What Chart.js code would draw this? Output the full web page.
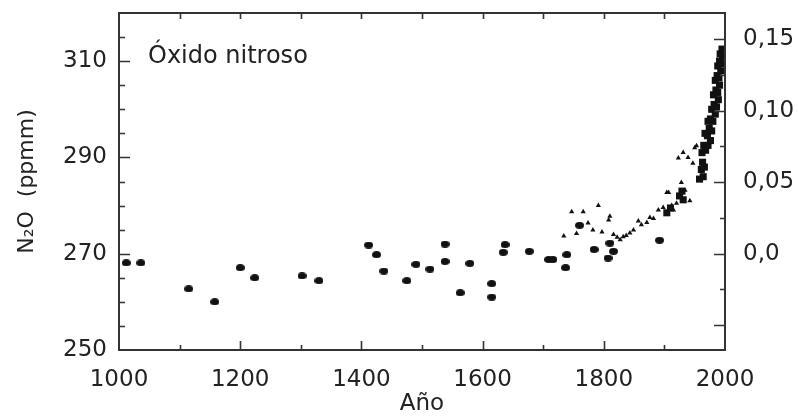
<!DOCTYPE html>
<html>
<head>
<meta charset="utf-8">
<script src="https://cdn.jsdelivr.net/npm/chart.js@4/dist/chart.umd.min.js"></script>
<style>
  html, body { margin: 0; padding: 0; background: #ffffff; }
  #wrap { width: 798px; height: 416px; }
</style>
</head>
<body>
<div id="wrap"><canvas id="c" width="798" height="416"></canvas></div>
<script>
// Ice-core N2O record (ellipses)
const coreYears  = [1012, 1036, 1115, 1158, 1200, 1224, 1302, 1330, 1412, 1425, 1437, 1475, 1490, 1513,
                    1538, 1538, 1563, 1579, 1615, 1615, 1634, 1637, 1677, 1709, 1716, 1737, 1739, 1760,
                    1784, 1807, 1810, 1816, 1892];
const coreValues = [268.1, 268.1, 262.7, 260.0, 267.1, 265.0, 265.4, 264.4, 271.8, 269.8, 266.4, 264.4, 267.8, 266.8,
                    272.0, 268.4, 261.9, 268.0, 263.8, 261.0, 270.3, 271.9, 270.5, 268.8, 268.8, 267.1, 269.8, 275.9,
                    270.9, 269.1, 272.2, 270.5, 272.8];

// Firn air record (triangles)
const firnYears  = [1734, 1747, 1755, 1766, 1774, 1782, 1791, 1797, 1808, 1810, 1816, 1822, 1827, 1832, 1837,
                    1843, 1849, 1857, 1862, 1871, 1876, 1882, 1890, 1898, 1904, 1907, 1912, 1915, 1920, 1923,
                    1926, 1928, 1931, 1934, 1939, 1942, 1947, 1950, 1953];
const firnValues = [273.7, 278.7, 274.2, 278.7, 276.4, 274.9, 280.0, 274.5, 277.0, 277.8, 274.0, 273.4, 272.9, 273.5, 273.8,
                    274.3, 274.9, 276.8, 276.0, 276.5, 277.5, 277.3, 279.1, 279.6, 282.7, 282.7, 280.0, 279.1, 280.5, 289.9,
                    281.7, 284.8, 291.0, 283.2, 290.0, 281.0, 288.8, 292.0, 292.4];

// Atmospheric measurements (squares)
const airYears  = [1904, 1910, 1925, 1929, 1931,
                   1958, 1961, 1963, 1964, 1966,
                   1962, 1965, 1968, 1972, 1976,
                   1967, 1971, 1974, 1978,
                   1972, 1976, 1980, 1984,
                   1978, 1982, 1986, 1989,
                   1981, 1985, 1988, 1991,
                   1984, 1987, 1990, 1993,
                   1988, 1991, 1994,
                   1992, 1995, 1996];
const airValues = [278.5, 279.5, 282.0, 283.0, 281.2,
                   285.5, 287.5, 289.0, 286.0, 288.0,
                   291.0, 292.5, 291.5, 292.5, 293.5,
                   295.0, 294.5, 296.0, 295.5,
                   297.5, 298.0, 297.5, 299.0,
                   300.0, 301.0, 300.5, 302.0,
                   303.0, 304.0, 303.5, 305.0,
                   306.0, 307.0, 306.5, 308.0,
                   309.0, 310.0, 309.5,
                   311.5, 312.5, 311.0];

const yearTicks   = [1000, 1200, 1400, 1600, 1800, 2000];
const ppmTicks    = [250, 270, 290, 310];
const forcingTicks  = [0, 0.05, 0.10, 0.15];
const forcingLabels = ['0,0', '0,05', '0,10', '0,15'];

const ppmMin = 250, ppmMax = 320;
const ppmAtZeroForcing = 270;
const ppmPerForcingUnit = 297;

const FONT = "'DejaVu Sans', sans-serif";
const INK = '#222222';

function pts(xs, ys) { return xs.map((x, i) => ({ x: x, y: ys[i] })); }

function ellipseSprite(w, h) {
  const c = document.createElement('canvas');
  c.width = w; c.height = h;
  const g = c.getContext('2d');
  g.fillStyle = '#111111';
  g.beginPath();
  g.ellipse(w / 2, h / 2, w / 2, h / 2, 0, 0, Math.PI * 2);
  g.fill();
  return c;
}

function setTicks(values) {
  return scale => { scale.ticks = values.map(v => ({ value: v })); };
}

// Fixed axis bands so the plot frame sits where it should
function fixSize(prop, size) {
  return s => {
    s[prop] = size;
    s.paddingTop = 0; s.paddingBottom = 0;
    s.paddingLeft = 0; s.paddingRight = 0;
  };
}

// Frame, inward tick marks and the panel title
const framePlugin = {
  id: 'frame',
  afterDraw(chart) {
    const { ctx, chartArea: a, scales } = chart;
    const x = scales.x, y = scales.y, y1 = scales.y1;
    ctx.save();
    ctx.strokeStyle = '#333333';
    ctx.lineWidth = 1.6;
    ctx.beginPath();
    for (let v = 1100; v < 2000; v += 100) {
      const px = Math.round(x.getPixelForValue(v)) + 0.5;
      const len = v % 200 === 0 ? 9 : 5;
      ctx.moveTo(px, a.bottom); ctx.lineTo(px, a.bottom - len);
      ctx.moveTo(px, a.top); ctx.lineTo(px, a.top + 6);
    }
    for (let v = 255; v <= 315; v += 5) {
      const py = Math.round(y.getPixelForValue(v)) + 0.5;
      const len = (v - 250) % 20 === 0 ? 11 : 6;
      ctx.moveTo(a.left, py); ctx.lineTo(a.left + len, py);
    }
    for (let k = -2; k <= 6; k++) {
      const v = k * 0.025;
      const py = Math.round(y1.getPixelForValue(v)) + 0.5;
      const len = k % 2 === 0 ? 11 : 5;
      ctx.moveTo(a.right, py); ctx.lineTo(a.right - len, py);
    }
    ctx.stroke();
    ctx.lineWidth = 2;
    ctx.strokeRect(a.left, a.top, a.right - a.left, a.bottom - a.top);
    ctx.fillStyle = INK;
    ctx.font = '24px ' + FONT;
    ctx.textBaseline = 'alphabetic';
    ctx.textAlign = 'left';
    ctx.fillText('Óxido nitroso', a.left + 29, a.top + 50);
    ctx.restore();
  }
};

new Chart(document.getElementById('c'), {
  type: 'scatter',
  data: {
    datasets: [
      {
        label: 'Testigos de hielo',
        data: pts(coreYears, coreValues),
        pointStyle: ellipseSprite(9, 7),
        pointRadius: 4,
        yAxisID: 'y'
      },
      {
        label: 'Aire en neviza',
        data: pts(firnYears, firnValues),
        pointStyle: 'triangle',
        pointRadius: 3,
        backgroundColor: '#111111',
        borderWidth: 0,
        yAxisID: 'y'
      },
      {
        label: 'Atmósfera',
        data: pts(airYears, airValues),
        pointStyle: 'rect',
        pointRadius: 5,
        backgroundColor: '#111111',
        borderWidth: 0,
        yAxisID: 'y'
      }
    ]
  },
  options: {
    responsive: false,
    animation: false,
    devicePixelRatio: 1,
    layout: { padding: { top: 13, left: 0, right: 0, bottom: 0 } },
    plugins: { legend: { display: false }, tooltip: { enabled: false } },
    scales: {
      x: {
        type: 'linear',
        position: 'bottom',
        min: 1000,
        max: 2000,
        afterBuildTicks: setTicks(yearTicks),
        afterFit: fixSize('height', 66),
        grid: { display: false, drawTicks: false },
        border: { display: false },
        ticks: { color: INK, font: { family: FONT, size: 23 }, padding: 16, maxRotation: 0,
                 callback: v => String(v) },
        title: { display: true, text: 'Año', color: INK, font: { family: FONT, size: 23, lineHeight: 1 }, padding: 0 }
      },
      y: {
        type: 'linear',
        position: 'left',
        min: ppmMin,
        max: ppmMax,
        afterBuildTicks: setTicks(ppmTicks),
        afterFit: fixSize('width', 119),
        grid: { display: false, drawTicks: false },
        border: { display: false },
        ticks: { color: INK, font: { family: FONT, size: 23 }, padding: 12, callback: v => String(v) },
        title: { display: true, text: 'N₂O  (ppmm)', color: INK, font: { family: FONT, size: 22, lineHeight: 1 }, padding: { top: 16, bottom: 0 } }
      },
      y1: {
        type: 'linear',
        position: 'right',
        min: (ppmMin - ppmAtZeroForcing) / ppmPerForcingUnit,
        max: (ppmMax - ppmAtZeroForcing) / ppmPerForcingUnit,
        afterBuildTicks: setTicks(forcingTicks),
        afterFit: fixSize('width', 73),
        grid: { display: false, drawTicks: false },
        border: { display: false },
        ticks: {
          color: INK,
          font: { family: FONT, size: 23 },
          padding: 18,
          callback: (v, i) => forcingLabels[i]
        }
      }
    }
  },
  plugins: [framePlugin]
});
</script>
</body>
</html>
